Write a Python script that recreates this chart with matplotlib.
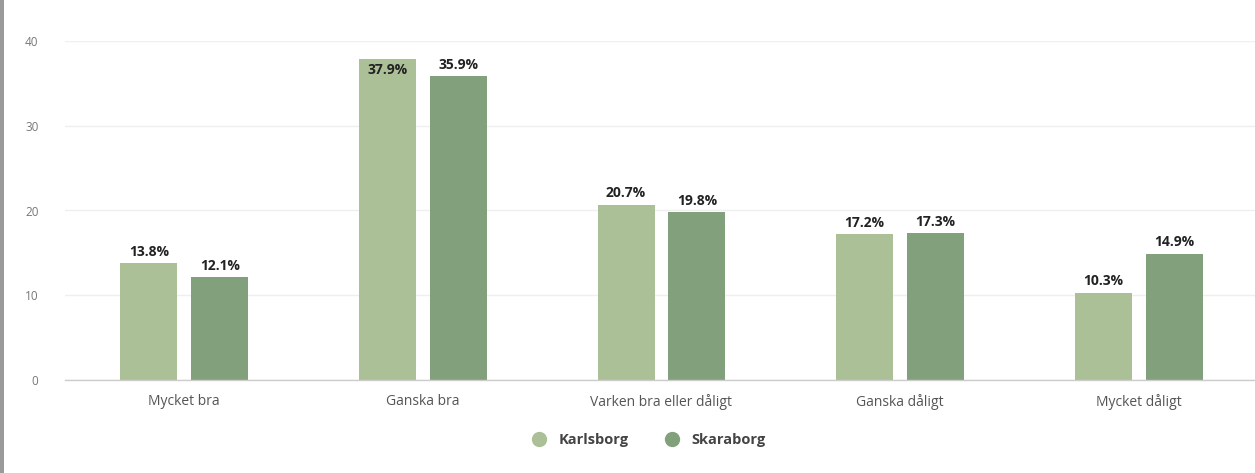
import matplotlib
matplotlib.use("Agg")
import matplotlib.pyplot as plt
import numpy as np
from matplotlib.patches import Rectangle
from matplotlib.lines import Line2D

categories = ["Mycket bra", "Ganska bra", "Varken bra eller dåligt", "Ganska dåligt", "Mycket dåligt"]
series_names = ["Karlsborg", "Skaraborg"]
karlsborg = [13.8, 37.9, 20.7, 17.2, 10.3]
skaraborg = [12.1, 35.9, 19.8, 17.3, 14.9]
yticks = [0, 10, 20, 30, 40]

colors = ["#abc097", "#82a07c"]

plt.rcParams['font.family'] = ['Open Sans', 'DejaVu Sans']

fig = plt.figure(figsize=(12.55, 4.73), dpi=100)
ax = fig.add_axes([65/1255, 93/473, (1258-65)/1255, 339/473])

x = np.arange(len(categories))
bw = 57/239
off = 35.5/239
for vals, c, d in [(karlsborg, colors[0], -off), (skaraborg, colors[1], off)]:
    ax.bar(x + d, vals, width=bw, color=c, zorder=3)
    for xi, v in zip(x + d, vals):
        if v > 37:
            ax.text(xi, v - 0.5, f"{v}%", ha="center", va="top", fontsize=10,
                    fontweight="bold", color="#222222", zorder=4)
        else:
            ax.text(xi, v + 0.5, f"{v}%", ha="center", va="bottom", fontsize=10,
                    fontweight="bold", color="#222222", zorder=4)

ax.set_xlim(-0.5, len(categories) - 0.5)
ax.set_ylim(0, 40)
ax.set_yticks(yticks)
ax.set_yticklabels([str(t) for t in yticks])
ax.set_xticks(x)
ax.set_xticklabels(categories)
ax.tick_params(axis="y", length=0, pad=19, labelsize=8.5, labelcolor="#777777")
ax.tick_params(axis="x", length=0, pad=10, labelsize=10, labelcolor="#555555")
ax.grid(axis="y", color="#efefef", linewidth=1, zorder=0)
for s in ["top", "right", "left"]:
    ax.spines[s].set_visible(False)
ax.spines["bottom"].set_color("#cccccc")
ax.spines["bottom"].set_linewidth(1)
ax.spines["bottom"].set_zorder(4)

handles = [Line2D([0], [0], marker="o", linestyle="", markersize=10,
                  markerfacecolor=c, markeredgecolor=c) for c in colors]
leg = fig.legend(handles, series_names, loc="center", bbox_to_anchor=(645/1255, 1 - 440/473),
                 ncol=2, frameon=False, handletextpad=0.3, columnspacing=2.0,
                 prop={"size": 10.5, "weight": "bold"})
for t in leg.get_texts():
    t.set_color("#444444")

# left gray edge
fig.patches.append(Rectangle((0, 0), 4/1255, 1, transform=fig.transFigure,
                             facecolor="#9a9a9a", edgecolor="none"))

fig.savefig("out.png", dpi=100)
